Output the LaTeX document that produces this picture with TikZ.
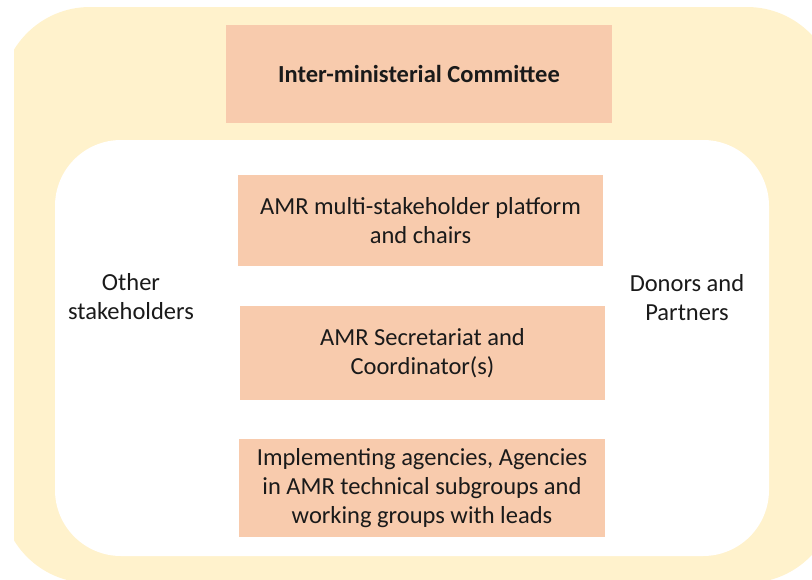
\documentclass[tikz,border=0pt]{standalone}
\usepackage{fontspec}
\setmainfont{Carlito}
\usepackage{tikz}
\definecolor{paleyellow}{HTML}{FFF2CC}
\definecolor{peach}{HTML}{F8CBAD}
\definecolor{inkgray}{HTML}{1A1A1A}

\begin{document}
\begin{tikzpicture}[x=1pt, y=-1pt,
    govbox/.style={fill=peach, draw=none, inner sep=0pt, align=center, text=inkgray,
        font=\fontsize{24.5}{29}\selectfont},
    sidelabel/.style={align=center, text=inkgray, font=\fontsize{24.5}{29}\selectfont}]
    \useasboundingbox (0,0) rectangle (812,579);
    % Outer band (cut at the picture edges)
    \begin{scope}
        \clip (14,0) rectangle (812,579);
        \fill[paleyellow, rounded corners=89pt] (1,7) rectangle (836,583);
    \end{scope}
    % Inner white area
    \fill[white, rounded corners=66pt] (55,140) rectangle (769,556);
    % Committee on top
    \node[govbox, minimum width=386pt, minimum height=98pt,
        font=\fontsize{24.5}{29}\selectfont\bfseries] (committee) at (419,74) {Inter-ministerial Committee};
    % Stack of bodies
    \node[govbox, minimum width=365pt, minimum height=91pt] (platform) at (420.5,220.5)
        {AMR multi-stakeholder platform\\and chairs};
    \node[govbox, minimum width=365pt, minimum height=94pt] (secretariat) at (422.5,353)
        {AMR Secretariat and\\Coordinator(s)};
    \node[govbox, minimum width=366pt, minimum height=98pt] (agencies) at (422,488)
        {Implementing agencies, Agencies\\in AMR technical subgroups and\\working groups with leads};
    % Side labels
    \node[sidelabel] (others) at (131,297) {Other\\stakeholders};
    \node[sidelabel] (donors) at (687,298) {Donors and\\Partners};
\end{tikzpicture}
\end{document}
